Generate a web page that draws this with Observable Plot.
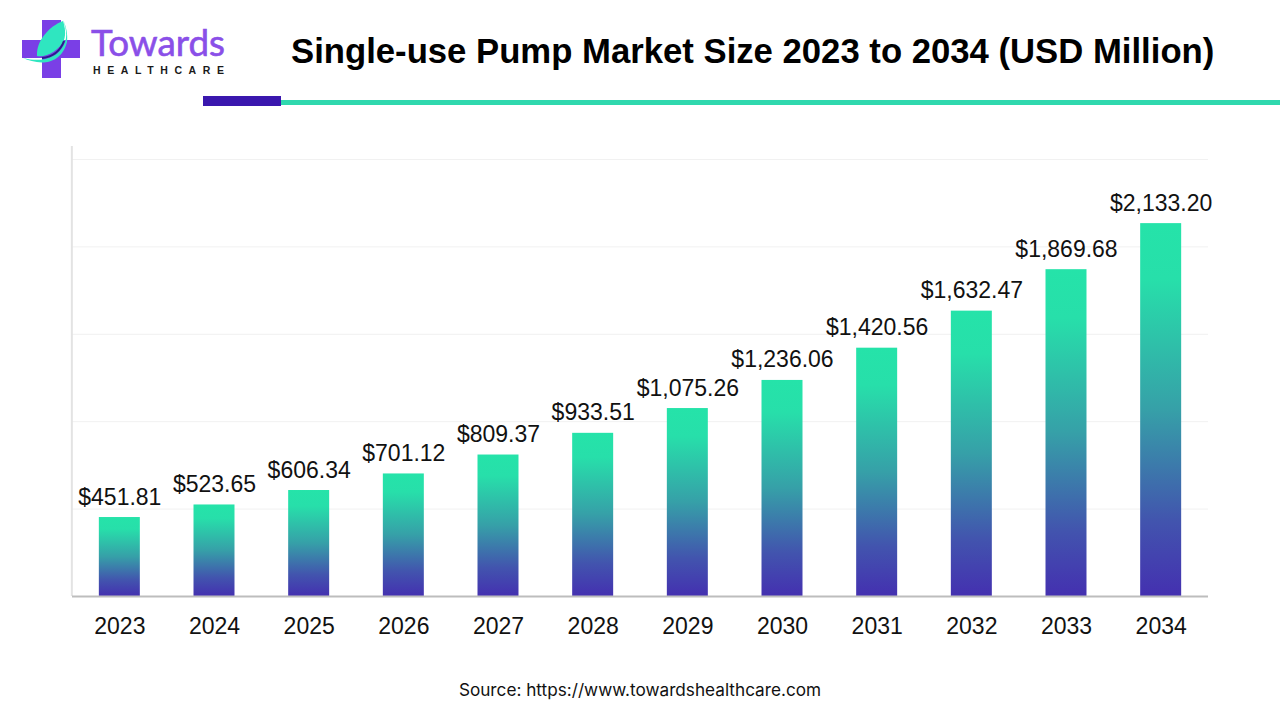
<!DOCTYPE html>
<html>
<head>
<meta charset="utf-8">
<script src="https://cdn.jsdelivr.net/npm/d3@7"></script>
<script src="https://cdn.jsdelivr.net/npm/@observablehq/plot@0.6"></script>
<style>
html,body{margin:0;padding:0;background:#fff;width:1280px;height:720px;overflow:hidden;font-family:"Liberation Sans",Arial,sans-serif}
#header{position:relative;width:1280px;height:130px}
#logo{position:absolute;left:0;top:0}
#title{position:absolute;left:291px;top:30px;font-weight:700;font-size:34.7px;line-height:42px;color:#000;white-space:nowrap}
#ruleDark{position:absolute;left:203px;top:96px;width:78px;height:10px;background:#3a17ae}
#ruleTeal{position:absolute;left:281px;top:100px;width:999px;height:5px;background:#2fd8ae}
#chart{width:1280px;height:540px}
#chart svg{display:block}
#caption{width:1280px;height:50px;text-align:center;font-family:Inter,"Liberation Sans",sans-serif;font-size:17.2px;line-height:39px;color:#111}
</style>
</head>
<body>
<div id="header">
  <svg id="logo" width="240" height="90" viewBox="0 0 240 90">
    <path d="M42 20H61V40H80V58H61V78H42V58H22V40H42Z" fill="#7a3fe6"/>
    <path d="M63 21C50 26 36 40 37 56C46 58 60 50 64 40C66 34 65 27 63 21Z" fill="#2fe6c0"/>
    <path d="M23 58C36 64 60 68 67 42C68 34 66 26 63 20C67 30 68 40 62 48C54 60 38 62 23 58Z" fill="#2fe6c0"/>
    <path d="M42 58C52 57 60 52 64 41" fill="none" stroke="#2a1f8a" stroke-width="2"/>
    <text x="91" y="56" font-family="Lato,'Open Sans',sans-serif" font-size="37" fill="#8a4fe8" stroke="#8a4fe8" stroke-width="0.6" textLength="134" lengthAdjust="spacingAndGlyphs">Towards</text>
    <text x="93" y="73.5" font-family="'Liberation Sans',Arial,sans-serif" font-weight="700" font-size="10.5" fill="#1a1a1a" textLength="131">HEALTHCARE</text>
  </svg>
  <div id="title">Single-use Pump Market Size 2023 to 2034 (USD Million)</div>
  <div id="ruleDark"></div>
  <div id="ruleTeal"></div>
</div>
<div id="chart"></div>
<div id="caption">Source: https://www.towardshealthcare.com</div>
<script>
const years = [2023,2024,2025,2026,2027,2028,2029,2030,2031,2032,2033,2034];
const values = [451.81,523.65,606.34,701.12,809.37,933.51,1075.26,1236.06,1420.56,1632.47,1869.68,2133.20];
const gridValues = [500,1000,1500,2000,2500];
const rows = years.map((year,i)=>({year,value:values[i]}));
const fmt = d3.format("$,.2f");

const gradientDefs = () => {
  const defs = d3.create("svg:defs");
  const g = defs.append("linearGradient").attr("id","barGrad").attr("x1",0).attr("y1",0).attr("x2",0).attr("y2",1);
  [[0,"#25e3a9"],[0.15,"#27dfaa"],[0.5,"#36a0a8"],[0.8,"#4254ae"],[1,"#4430b0"]].forEach(([o,c])=>
    g.append("stop").attr("offset",o).attr("stop-color",c));
  return defs.node();
};

const plot = Plot.plot({
  width:1280, height:540,
  marginTop:29, marginBottom:74, marginLeft:72, marginRight:72,
  style:{fontFamily:"'Liberation Sans',Arial,sans-serif",background:"#fff",color:"#111",overflow:"visible"},
  x:{type:"band",domain:years,round:false,paddingInner:0.567,paddingOuter:0.2835,label:null,axis:null},
  y:{domain:[0,2500],axis:null},
  marks:[
    gradientDefs,
    Plot.ruleY(gridValues,{stroke:"#f1f1f1",strokeWidth:1}),
    Plot.ruleX([years[0]],{y1:0,y2:2575,dx:-48,stroke:"#e3e3e3",strokeWidth:2}),
    Plot.barY(rows,{x:"year",y:"value",fill:"url(#barGrad)"}),
    Plot.ruleY([0],{stroke:"#bdbdbd",strokeWidth:2}),
    Plot.text(rows,{x:"year",y:"value",text:d=>fmt(d.value),dy:-13,lineAnchor:"bottom",fontSize:23,fill:"#111"}),
    Plot.axisX(years,{tickSize:0,tickPadding:21,fontSize:23,fill:"#111",label:null,tickFormat:d=>String(d)})
  ]
});
document.getElementById("chart").appendChild(plot);
</script>
</body>
</html>
